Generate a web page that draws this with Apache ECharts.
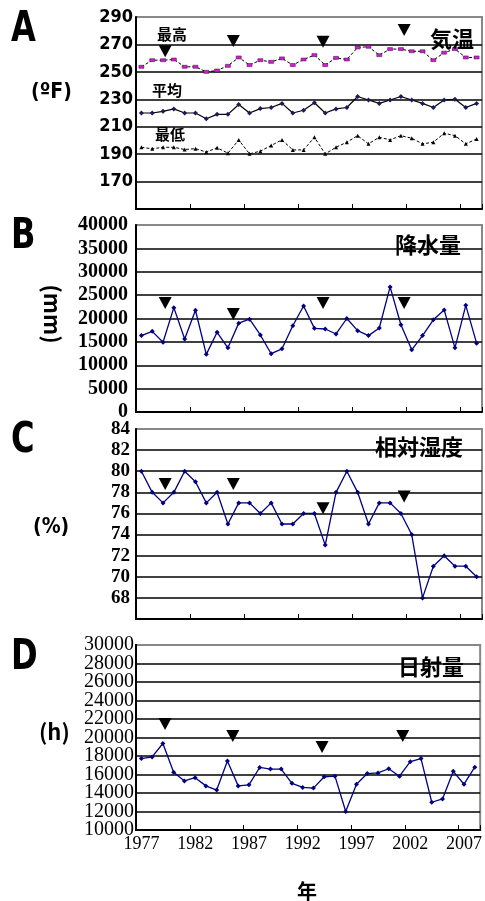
<!DOCTYPE html>
<html><head><meta charset="utf-8">
<script src="https://cdn.jsdelivr.net/npm/echarts@6/dist/echarts.min.js"></script>
<style>html,body{margin:0;padding:0;background:#fff}#c{width:485px;height:901px}</style>
</head><body><div id="c"></div>
<script>
const years = [];
for (let y = 1977; y <= 2008; y++) years.push(String(y));

const tempMax = [253.7,258.5,258.5,259,253.7,253.7,250,251,254.4,260.5,255,258.5,257.3,259.8,255,259,262.2,255,260.2,259,267.8,268.3,262.2,266.6,266.6,265,265,258.5,264,266.6,260.5,260.5];
const tempMean = [220,220,221.2,223,220,220,215.8,219,219,226.2,220,223.2,224,227,220,222,227.5,220,223,224,232,229.5,227,229.5,232,229.5,227,224,229.5,230,224,227];
const tempMin = [195,193.9,195,195,193.4,194,191.5,194.6,190.7,200.4,190.2,192.2,196.3,200.4,193.1,193.1,202.3,190.2,195,198.7,203.5,197.5,202.3,200.4,203.5,201.6,197.5,198.7,205.2,203.5,197.5,201];
const precip = [16340,17250,14930,22320,15630,21760,12330,17040,13730,19010,19860,16480,12470,13520,18450,22680,17890,17750,16690,20000,17400,16340,17960,26760,18660,13310,16340,19720,21830,13730,22820,14720];
const humidity = [80,78,77,78,80,79,77,78,75,77,77,76,77,75,75,76,76,73,78,80,78,75,77,77,76,74,68,71,72,71,71,70];
const sunshine = [17720,17900,19350,16240,15300,15650,14770,14320,17450,14770,14880,16760,16590,16590,15050,14600,14530,15750,15820,12000,14950,16100,16170,16620,15820,17380,17720,13000,13360,16340,14950,16790];

// event markers (▼): fractional year positions and heights in each panel's units
const markYears = [1979.2, 1985.5, 1993.8, 2001.3];
const markA = [265, 272.5, 272, 280.5];
const markB = [23320, 20960, 23320, 23320];
const markC = [78.8, 78.8, 76.5, 77.6];
const markD = [21460, 20160, 18970, 20160];

const yTicksA = {min:150, max:290, interval:20};
const yTicksB = {min:0, max:40000, interval:5000};
const yTicksC = {min:66, max:84, interval:2};
const yTicksD = {min:10000, max:30000, interval:2000};

const grids = [
  {left:136, right:3, top:17, height:192},
  {left:136, right:3, top:225, height:187},
  {left:136, right:3, top:429, height:190},
  {left:136, right:3, top:645, height:185}
];
grids.forEach(g => { g.show = true; g.borderColor = '#888'; g.borderWidth = 2; g.backgroundColor = 'transparent'; });

const narrow = "'DejaVu Sans Condensed','Liberation Sans Narrow','Liberation Sans',sans-serif";
const serif = "'Liberation Serif','DejaVu Serif',serif";
const cjk = "'Noto Sans CJK JP','Noto Sans CJK SC',sans-serif";

function catAxis(i, showLabel) {
  return {
    type:'category', gridIndex:i, data:years, boundaryGap:true,
    axisLine:{show:true, lineStyle:{color:'#000', width:2}},
    axisTick:{show:true, inside:true, length:5, interval:4, alignWithLabel:false, lineStyle:{color:'#000', width:1}},
    axisLabel:{show:showLabel, interval:4, color:'#000', fontFamily:serif, fontSize:18, margin:5, hideOverlap:false},
    splitLine:{show:false}
  };
}
function hiddenX(i) {
  return {type:'value', gridIndex:i, min:-0.5, max:31.5, show:false, splitLine:{show:false}};
}
function valAxis(i, t, font, size, weight, margin, showMin, parity) {
  const n = Math.round((t.max - t.min) / t.interval) + 1;
  const cols = Array(n - 1).fill('#000').concat(['#888']);
  const fmt = parity === undefined ? (v => String(v))
    : (v => (Math.round((v - t.min) / t.interval) % 2 === parity ? String(v) : ''));
  return {
    type:'value', gridIndex:i, position:'left', offset:0,
    min:t.min, max:t.max, interval:t.interval,
    axisLine:{show:true, onZero:false, lineStyle:{color:'#000', width:2}},
    axisTick:{show:false},
    axisLabel:{color:'#000', fontFamily:font, fontSize:size, fontWeight:weight, margin:margin,
      showMinLabel:showMin, showMaxLabel:true, hideOverlap:false, formatter:fmt},
    splitLine:{show:parity !== 1, lineStyle:{color:cols, width:1.6}}
  };
}

const navy = '#000080';
function navyLine(i, data) {
  return {type:'line', xAxisIndex:i, yAxisIndex:i, data:data, smooth:false,
    symbol:'diamond', symbolSize:5, showSymbol:true,
    lineStyle:{color:navy, width:1.3}, itemStyle:{color:navy}, animation:false, z:3};
}
function marks(i, ys) {
  return {type:'scatter', xAxisIndex:4 + i, yAxisIndex:i,
    data: markYears.map((yr, k) => [yr - 1977, ys[k]]),
    symbol:'triangle', symbolRotate:180, symbolSize:[13,12],
    itemStyle:{color:'#000', opacity:1}, animation:false, z:4};
}

function txt(text, x, y, font, extra) {
  const el = {type:'text', x:x, y:y, z:10,
    style:{text:text, font:font, fill:'#000', textAlign:'left', textVerticalAlign:'middle'}};
  if (extra) Object.assign(el, extra);
  return el;
}

const option = {
  backgroundColor:'#fff',
  animation:false,
  grid:grids,
  xAxis:[catAxis(0,false), catAxis(1,false), catAxis(2,false), catAxis(3,true), hiddenX(0), hiddenX(1), hiddenX(2), hiddenX(3)],
  yAxis:[
    valAxis(0, yTicksA, narrow, 18, 'bold', 3, false),
    valAxis(1, yTicksB, serif, 20, 'bold', 8, true),
    valAxis(2, yTicksC, serif, 19, 'bold', 6, false),
    valAxis(3, yTicksD, serif, 20, 'normal', 2, true, 0),
    valAxis(3, yTicksD, serif, 20, 'normal', 2, true, 1)
  ],
  series:[
    {type:'line', xAxisIndex:0, yAxisIndex:0, data:tempMax, symbol:'rect', symbolSize:[5,3],
      lineStyle:{color:'#000', width:1, type:[3,2]}, itemStyle:{color:'#d81ad8', borderColor:'#301030', borderWidth:0.5}, z:3},
    {type:'line', xAxisIndex:0, yAxisIndex:0, data:tempMean, symbol:'diamond', symbolSize:5,
      lineStyle:{color:'#000', width:1.2}, itemStyle:{color:'#1a1a5a'}, z:3},
    {type:'line', xAxisIndex:0, yAxisIndex:0, data:tempMin, symbol:'triangle', symbolSize:4,
      lineStyle:{color:'#000', width:1, type:[3,2]}, itemStyle:{color:'#000'}, z:3},
    navyLine(1, precip),
    navyLine(2, humidity),
    navyLine(3, sunshine),
    marks(0, markA), marks(1, markB), marks(2, markC), marks(3, markD)
  ],
  graphic:[
    txt('A', 11, 30, 'bold 42px ' + narrow, {scaleX:0.85}),
    txt('B', 11, 237, 'bold 42px ' + narrow, {scaleX:0.85}),
    txt('C', 11, 441, 'bold 42px ' + narrow, {scaleX:0.85}),
    txt('D', 11, 658, 'bold 42px ' + narrow, {scaleX:0.85}),
    txt('(ºF)', 31, 93, 'bold 21px ' + narrow),
    txt('(mm)', 52, 314, 'bold 22px ' + cjk, {rotation:-Math.PI/2, style:{text:'(mm)', font:'bold 22px ' + cjk, fill:'#000', textAlign:'center', textVerticalAlign:'middle'}}),
    txt('(%)', 33, 528, 'bold 21px ' + narrow),
    txt('(h)', 39, 732, 'bold 22px ' + cjk),
    txt('気温', 430, 39, 'bold 22px ' + cjk),
    txt('降水量', 395, 245, 'bold 22px ' + cjk),
    txt('相対湿度', 375, 447, 'bold 22px ' + cjk),
    txt('日射量', 398, 667, 'bold 22px ' + cjk),
    txt('最高', 157, 34, 'bold 15px ' + cjk),
    txt('平均', 152, 90, 'bold 15px ' + cjk),
    txt('最低', 155, 134, 'bold 15px ' + cjk),
    txt('年', 297, 891, 'bold 20px ' + cjk)
  ]
};

const chart = echarts.init(document.getElementById('c'), null, {renderer:'canvas'});
chart.setOption(option);
</script>
</body></html>
